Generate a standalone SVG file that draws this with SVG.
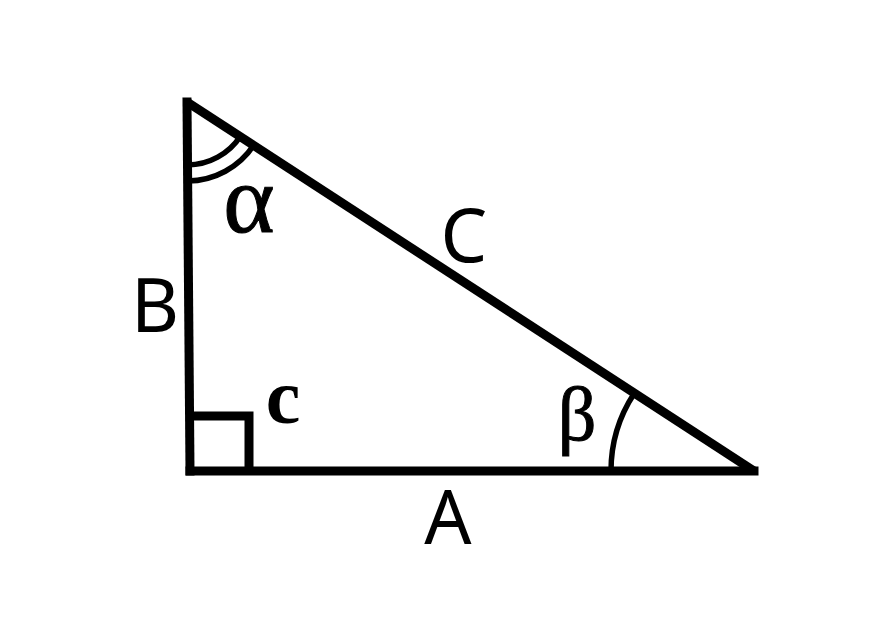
<svg xmlns="http://www.w3.org/2000/svg" width="896" height="638" viewBox="0 0 896 638">
<style>
.edge{stroke:#000;stroke-width:9;fill:none;stroke-linecap:square}
.arc{stroke:#000;stroke-width:5.5;fill:none}
.side{font-family:"Noto Sans","DejaVu Sans",sans-serif;font-size:74px;fill:#000;text-anchor:middle}
.ang{font-family:"Liberation Serif","DejaVu Serif",serif;fill:#000;text-anchor:middle;stroke:#000;stroke-width:1}
</style>
<rect width="896" height="638" fill="#fff"/>
<g id="connectors">
<line class="edge" x1="187" y1="102" x2="190" y2="471"/>
<line class="edge" x1="190" y1="471" x2="754" y2="471"/>
<line class="edge" x1="187" y1="102" x2="754" y2="471" style="stroke-linecap:butt"/>
<polyline class="edge" points="190,416 249,416 249,471" style="stroke-linecap:butt"/>
<path class="arc" d="M 187.5 165 A 64 64 0 0 0 240.6 136"/>
<path class="arc" d="M 187.6 181 A 80 80 0 0 0 254 144.8"/>
<path class="arc" d="M 611 471 A 141 141 0 0 1 634 393.8"/>
</g>
<g id="label-A"><text class="side" x="448" y="544">A</text></g>
<g id="label-B"><text class="side" x="155" y="332">B</text></g>
<g id="label-C"><text class="side" x="464" y="262">C</text></g>
<g id="label-alpha"><text class="ang" x="249" y="232" font-size="98">α</text></g>
<g id="label-c"><text class="ang" x="283" y="423" font-size="78" font-weight="bold" style="stroke-width:0">c</text></g>
<g id="label-beta"><text class="ang" x="577" y="440" font-size="76">β</text></g>
</svg>
